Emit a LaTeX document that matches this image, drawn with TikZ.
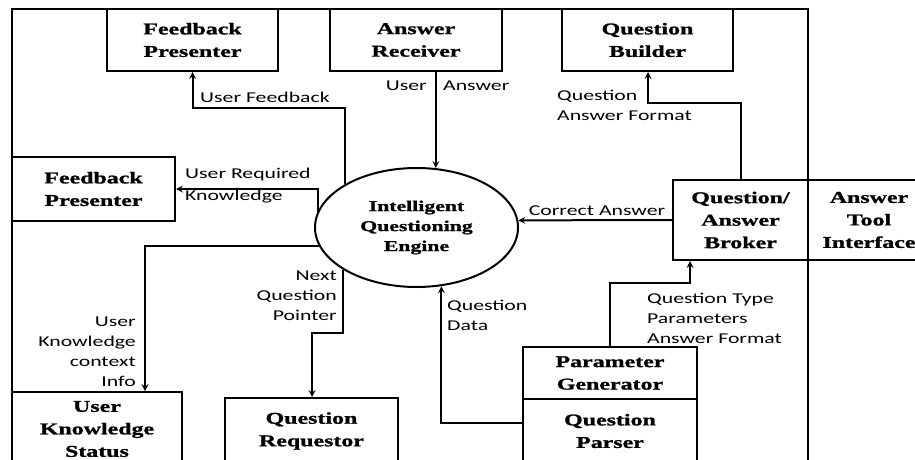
\documentclass[tikz,border=0pt]{standalone}
\usepackage{fontspec}
\usepackage{tikz}
\usetikzlibrary{arrows,calc,shapes.geometric}
\usetikzlibrary{positioning}
\newfontfamily\boxfont[FakeStretch=1.45,FakeBold=1.2]{Liberation Serif}
\newfontfamily\labfont[FakeStretch=1.45]{Carlito}
\tikzset{
  module/.style={draw, line width=2pt, align=center, inner sep=0pt, font=\boxfont\bfseries\fontsize{16.5}{22.5}\selectfont},
  flow/.style={-stealth, line width=2pt},
  lab/.style={inner sep=0pt, font=\labfont\fontsize{15}{20}\selectfont}
}
\begin{document}
\begin{tikzpicture}[x=1pt, y=-1pt]
        \useasboundingbox (0,0) rectangle (915,460);
        \draw[line width=2pt] (12,475) -- (12,9) -- (808,9) -- (808,475);

        \node[module, minimum width=171, minimum height=62] (fbTop) at (192.5,40) {Feedback\\Presenter};
        \node[module, minimum width=172, minimum height=62] (ansRecv) at (416,40) {Answer\\Receiver};
        \node[module, minimum width=171, minimum height=62] (qBuild) at (647.5,40) {Question\\Builder};
        \node[module, minimum width=163, minimum height=64] (fbLeft) at (93.5,189) {Feedback\\Presenter};
        \node[module, ellipse, minimum width=203, minimum height=119, font=\boxfont\bfseries\fontsize{15}{20}\selectfont] (engine) at (416.5,227.5) {Intelligent\\Questioning\\Engine};
        \node[module, minimum width=135, minimum height=80] (broker) at (740.5,220) {Question/\\Answer\\Broker};
        \node[module, minimum width=122, minimum height=80] (toolIf) at (869,220) {Answer\\Tool\\Interface};
        \node[module, minimum width=170, minimum height=74] (userKS) at (97,429) {User\\Knowledge\\Status};
        \node[module, minimum width=173, minimum height=66] (qReq) at (311.5,431) {Question\\Requestor};
        \node[module, minimum width=174, minimum height=52] (paramGen) at (610,373) {Parameter\\Generator};
        \node[module, minimum width=174, minimum height=64] (qParser) at (610,431) {Question\\Parser};

        \coordinate (ufb) at (192.5,108);
        \coordinate (qaf) at (648,103);
        \coordinate (nqp) at (312,333);
        \coordinate (qtp) at (690,283);

        \draw[flow] (engine.149.5) |- (ufb) -- (fbTop.south);
        \draw[flow] (engine.72.5 |- ansRecv.south) -- (engine.72.5);
        \draw[flow] (broker.north) |- (qaf) -- (qaf |- qBuild.south);
        \draw[flow] (engine.171.7) |- (fbLeft.east);
        \draw[flow] (broker.west) -- (engine.4.3);
        \draw[flow] (engine.191.5) -| ([xshift=48pt]userKS.north);
        \draw[flow] (engine.210.5) |- (nqp) -- (nqp |- qReq.north);
        \draw[flow] ([yshift=8pt]qParser.west) -| (engine.293.9);
        \draw[flow] (paramGen.north) |- (qtp) -- (qtp |- broker.south);

        \node[lab, anchor=west] (ufbLab) at (200,97) {User Feedback};
        \node[lab, anchor=east] (uaLab) at (427,86) {User};
        \node[lab, anchor=west] (uaLab2) at (443,86) {Answer};
        \node[lab, anchor=west, align=left] (qafLab) at (557,105) {Question\\Answer Format};
        \node[lab, anchor=west, align=left] (urkLab) at (185,186) {User Required\\[2pt]Knowledge};
        \node[lab] (caLab) at (597,211) {Correct Answer};
        \node[lab, anchor=east, align=right] (nqpLab) at (337,296) {Next\\Question\\Pointer};
        \node[lab, anchor=east, align=right] (ukcLab) at (136,352) {User\\Knowledge\\context\\Info};
        \node[lab, anchor=west, align=left] (qdLab) at (447,315) {Question\\Data};
        \node[lab, anchor=west, align=left] (qtpLab) at (647,318) {Question Type\\Parameters\\Answer Format};
\end{tikzpicture}
\end{document}
